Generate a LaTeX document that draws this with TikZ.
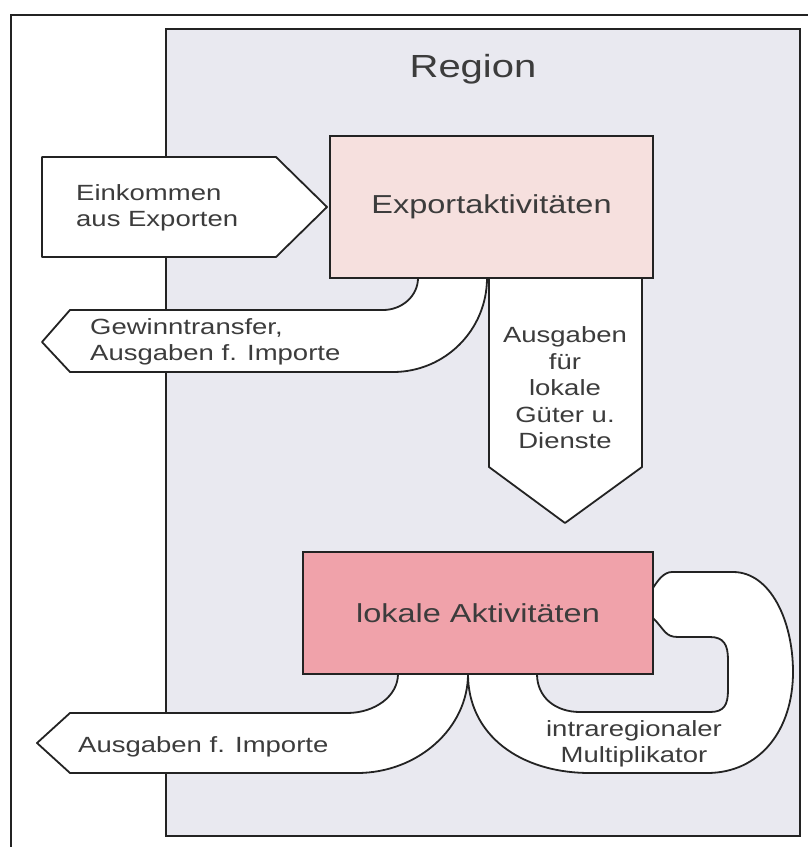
\documentclass[tikz,border=0pt]{standalone}
\usepackage{fontspec}
\setmainfont{Liberation Sans}[FakeStretch=1.25]
\definecolor{regiongray}{RGB}{233,233,240}
\definecolor{exportpink}{RGB}{246,224,222}
\definecolor{localpink}{RGB}{240,162,170}
\definecolor{textgray}{RGB}{60,60,60}
\definecolor{linegray}{RGB}{35,35,35}

\begin{document}
\begin{tikzpicture}[x=1pt,y=-1pt,
  band/.style={fill=white, draw=linegray, line width=1.8pt, line join=round},
  actbox/.style={draw=linegray, line width=2.2pt, inner sep=0pt, outer sep=0pt,
    text=textgray, font=\fontsize{26}{30}\selectfont},
  lbl/.style={text=textgray, inner sep=0pt, font=\fontsize{22}{26.5}\selectfont}]
\useasboundingbox (0,0) rectangle (808,847);
\fill[white] (0,0) rectangle (808,847);
\draw[linegray, line width=2pt] (11,847) -- (11,15) -- (808,15);
\draw[linegray, line width=2pt, fill=regiongray] (166,29) rectangle (800,836);
\node[text=textgray, inner sep=0pt, font=\fontsize{32}{36}\selectfont, anchor=base] (region) at (473,77) {Region};

% einkommen
\draw[band] (42,157) -- (276,157) -- (327,207) -- (276,257) -- (42,257) -- cycle;
% gewinntransfer
\draw[band] (487,278) .. controls (487,330) and (445,372) .. (393,372) -- (70,372) -- (42,342)
  -- (70,310) -- (383,310) .. controls (402,310) and (418,296) .. (418,278);
% ausgaben lokal
\draw[band] (489,278) -- (489,467) -- (565,523) -- (642,467) -- (642,278);
% importe
\draw[band] (468,674) .. controls (468,728) and (418,773) .. (357,773) -- (70,773) -- (37,743)
  -- (70,713) -- (347,713) .. controls (375,713) and (398,696) .. (398,674);
% multiplikator
\draw[band] (468,674) .. controls (468,735) and (520,773) .. (590,773) -- (707,773)
  .. controls (760,773) and (793,730) .. (793,672) .. controls (793,620) and (770,572) .. (733,572)
  -- (672,572) .. controls (664,572) and (658,580) .. (653,588) -- (653,618)
  .. controls (665,630) and (665,637) .. (678,637) -- (710,637)
  .. controls (724,637) and (728,645) .. (728,660) -- (728,690)
  .. controls (728,705) and (724,712) .. (710,712) -- (580,712)
  .. controls (555,712) and (537,697) .. (537,674);

\node[actbox, fill=exportpink, minimum width=323pt, minimum height=142pt] (export) at (491.5,207) {Exportaktivitäten};
\node[actbox, fill=localpink, minimum width=350pt, minimum height=122pt] (local) at (478,613) {lokale Aktivitäten};

\node[lbl, align=left, anchor=west] (income) at (76,208) {Einkommen\\aus Exporten};
\node[lbl, align=left, anchor=west] (transfer) at (90,342) {Gewinntransfer,\\Ausgaben f. Importe};
\node[lbl, align=center] (spend) at (565,388) {Ausgaben\\für\\lokale\\Güter u.\\Dienste};
\node[lbl, anchor=base west] (imports) at (78,752) {Ausgaben f. Importe};
\node[lbl, align=center] (mult) at (634,744) {intraregionaler\\Multiplikator};
\end{tikzpicture}
\end{document}
